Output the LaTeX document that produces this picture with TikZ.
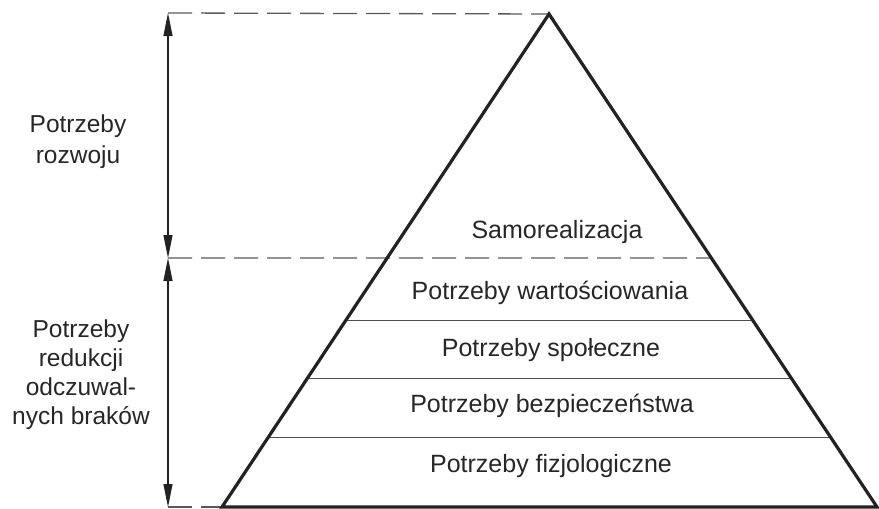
\documentclass[tikz,border=0pt]{standalone}
\usepackage{fontspec}
\setmainfont{Liberation Sans}
\usetikzlibrary{calc,arrows.meta}
\definecolor{ink}{HTML}{222222}
\definecolor{txt}{HTML}{262626}
\begin{document}
\begin{tikzpicture}[x=1pt,y=-1pt,
  pyr/.style={draw=ink,line width=3.2pt,line join=miter},
  sep/.style={draw=ink!80,line width=0.9pt},
  guide/.style={draw=ink!75,line width=1.3pt,dash pattern=on 24pt off 9pt},
  dim/.style={draw=ink,line width=1.1pt,{Triangle[length=23pt,width=9pt]}-{Triangle[length=23pt,width=9pt]}},
  lvl/.style={text=txt,font=\fontsize{25}{29}\selectfont,anchor=base,inner sep=0pt},
  side/.style={text=txt,font=\fontsize{24.5}{29}\selectfont,anchor=base,inner sep=0pt}]
\useasboundingbox (0,0) rectangle (879,509);

% pyramid corners and the axis of the dimension arrows
\coordinate (apex) at (549,14);
\coordinate (bl) at (222,507);
\coordinate (br) at (877,507);
\coordinate (axT) at (168,13);
\coordinate (axM) at (168,258);
\coordinate (axB) at (168,507);

% points where the level boundaries meet the sides
\coordinate (l1) at ($(apex)!0.4949!(bl)$);
\coordinate (r1) at ($(apex)!0.4949!(br)$);
\coordinate (l2) at ($(apex)!0.6207!(bl)$);
\coordinate (r2) at ($(apex)!0.6207!(br)$);
\coordinate (l3) at ($(apex)!0.7383!(bl)$);
\coordinate (r3) at ($(apex)!0.7383!(br)$);
\coordinate (l4) at ($(apex)!0.8580!(bl)$);
\coordinate (r4) at ($(apex)!0.8580!(br)$);

% level separators
\draw[sep] (l2) -- (r2);
\draw[sep] (l3) -- (r3);
\draw[sep] (l4) -- (r4);

% dashed guide lines
\draw[guide] (axT) -- (apex);
\draw[guide] (axM) -- (r1);
\draw[guide] (axB) -- (bl);

% pyramid outline
\draw[pyr] (apex) -- (bl) -- (br) -- cycle;

% dimension arrows
\draw[dim] (axT) -- (axM);
\draw[dim] (axM) -- (axB);

% level labels
\node[lvl] (n1) at (557,238) {Samorealizacja};
\node[lvl] (n2) at (550,299) {Potrzeby wartościowania};
\node[lvl] (n3) at (551,356) {Potrzeby społeczne};
\node[lvl] (n4) at (552,412) {Potrzeby bezpieczeństwa};
\node[lvl] (n5) at (551,472) {Potrzeby fizjologiczne};

% side labels
\node[side] (g1) at (78,132) {Potrzeby};
\node[side] (g2) at (78,163) {rozwoju};
\node[side] (d1) at (81,337) {Potrzeby};
\node[side] (d2) at (81,366) {redukcji};
\node[side] (d3) at (81,395) {odczuwal-};
\node[side] (d4) at (81,424) {nych braków};
\end{tikzpicture}
\end{document}
